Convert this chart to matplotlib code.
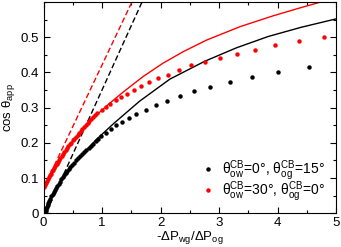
import matplotlib
matplotlib.use("Agg")
import matplotlib.pyplot as plt
from matplotlib.ticker import MultipleLocator

plt.rcParams['font.family'] = ['Liberation Sans', 'DejaVu Sans']
plt.rcParams['mathtext.fontset'] = 'custom'
plt.rcParams['mathtext.rm'] = 'Liberation Sans'
plt.rcParams['mathtext.it'] = 'Liberation Sans:italic'
plt.rcParams['mathtext.bf'] = 'Liberation Sans:bold'

# Black series: theta_ow=0, theta_og=15
black_dots_x = [0.03, 0.037, 0.045, 0.057, 0.07, 0.085, 0.10, 0.117, 0.135, 0.155,
                0.175, 0.195, 0.215, 0.237, 0.26, 0.283, 0.305, 0.33, 0.355, 0.38,
                0.405, 0.432, 0.46, 0.49, 0.52, 0.552, 0.585, 0.62, 0.655, 0.69,
                0.73, 0.77, 0.81, 0.85, 0.895, 0.94,
                0.988, 1.073, 1.159, 1.245, 1.347, 1.461, 1.587, 1.747, 1.918,
                2.11, 2.33, 2.57, 2.85, 3.18, 3.57, 4.01, 4.54]
black_dots_y = [0.000, 0.006, 0.012, 0.018, 0.024, 0.030, 0.036, 0.042, 0.048, 0.054,
                0.060, 0.066, 0.072, 0.078, 0.084, 0.090, 0.096, 0.102, 0.108, 0.114,
                0.120, 0.126, 0.132, 0.138, 0.144, 0.150, 0.156, 0.162, 0.168, 0.174,
                0.180, 0.186, 0.192, 0.198, 0.205, 0.212,
                0.219, 0.229, 0.238, 0.250, 0.259, 0.271, 0.282, 0.294, 0.308,
                0.320, 0.333, 0.347, 0.360, 0.374, 0.387, 0.402, 0.415]
black_line_x = [0, 0.05, 0.1, 0.2, 0.3, 0.4, 0.6, 0.9, 1.2, 1.64, 2.16, 2.76, 3.3, 3.84, 4.4, 5.0]
black_line_y = [0, 0.020, 0.037, 0.064, 0.090, 0.113, 0.155, 0.209, 0.255, 0.318, 0.381,
                0.432, 0.470, 0.502, 0.528, 0.552]
black_dash_x = [0.05, 1.75]
black_dash_y = [0.003, 0.624]

# Red series: theta_ow=30, theta_og=0
red_dots_x = [0.01, 0.025, 0.04, 0.057, 0.075, 0.092, 0.11, 0.127, 0.145, 0.165,
              0.185, 0.205, 0.225, 0.245, 0.265, 0.288, 0.31, 0.333, 0.355, 0.378,
              0.40, 0.425, 0.45, 0.475, 0.50, 0.528, 0.555, 0.583, 0.61, 0.638,
              0.665, 0.695, 0.725, 0.755, 0.785, 0.817, 0.85, 0.88,
              0.913, 0.993, 1.062, 1.142, 1.233, 1.318, 1.427, 1.541, 1.661, 1.80,
              1.957, 2.13, 2.31, 2.52, 2.76, 3.01, 3.30, 3.61, 3.96, 4.36, 4.80]
red_dots_y = [0.075, 0.080, 0.086, 0.091, 0.097, 0.102, 0.108, 0.113, 0.119, 0.124,
              0.130, 0.135, 0.141, 0.146, 0.152, 0.157, 0.163, 0.168, 0.174, 0.179,
              0.185, 0.190, 0.196, 0.201, 0.207, 0.212, 0.218, 0.223, 0.229, 0.234,
              0.240, 0.245, 0.251, 0.256, 0.262, 0.268, 0.274, 0.280,
              0.286, 0.294, 0.303, 0.311, 0.322, 0.330, 0.340, 0.350, 0.362, 0.372,
              0.384, 0.394, 0.406, 0.420, 0.429, 0.442, 0.453, 0.465, 0.477, 0.490, 0.501]
red_line_x = [0, 0.1, 0.2, 0.35, 0.5, 0.7, 0.9, 1.1, 1.36, 1.7, 2.04, 2.4, 2.79, 3.36,
              3.93, 4.4, 4.72, 5.0]
red_line_y = [0.072, 0.104, 0.133, 0.172, 0.205, 0.243, 0.278, 0.308, 0.344, 0.388,
              0.426, 0.460, 0.492, 0.530, 0.561, 0.584, 0.599, 0.612]
red_dash_x = [0.0, 1.60]
red_dash_y = [0.071, 0.631]

labels = ["$\\mathrm{θ}^{\\mathrm{CB}}_{\\mathrm{ow}}$=0°, $\\mathrm{θ}^{\\mathrm{CB}}_{\\mathrm{og}}$=15°",
          "$\\mathrm{θ}^{\\mathrm{CB}}_{\\mathrm{ow}}$=30°, $\\mathrm{θ}^{\\mathrm{CB}}_{\\mathrm{og}}$=0°"]

fig = plt.figure(figsize=(3.41, 2.47), dpi=100)
ax = fig.add_axes([43.5/341, 1 - 213.3/247, (336 - 43.5)/341, (213.3 - 2)/247])

ax.plot(black_line_x, black_line_y, color='black', lw=1.0)
ax.plot(red_line_x, red_line_y, color='#ff0000', lw=1.0)
ax.plot(black_dash_x, black_dash_y, color='black', lw=1.0, ls=(0, (4, 2)))
ax.plot(red_dash_x, red_dash_y, color='#ff0000', lw=1.0, ls=(0, (4, 2)))
h1, = ax.plot(black_dots_x, black_dots_y, 'o', color='black', ms=3.2, mew=0, label=labels[0])
h2, = ax.plot(red_dots_x, red_dots_y, 'o', color='#ff0000', ms=3.2, mew=0, label=labels[1])

ax.set_xlim(0, 5)
ax.set_ylim(0, 0.6)
ax.set_xticks([0, 1, 2, 3, 4, 5])
ax.set_yticks([0, 0.1, 0.2, 0.3, 0.4, 0.5])
ax.set_yticklabels(['0', '0.1', '0.2', '0.3', '0.4', '0.5'])
ax.xaxis.set_minor_locator(MultipleLocator(0.5))
ax.yaxis.set_minor_locator(MultipleLocator(0.05))
ax.tick_params(which='both', direction='in', top=True, right=True, labelsize=9.5, width=0.8)
ax.tick_params(which='major', length=4)
ax.tick_params(axis='x', which='major', pad=2.5)
ax.tick_params(axis='y', which='major', pad=3)
ax.tick_params(which='minor', length=2.5)
for s in ax.spines.values():
    s.set_linewidth(0.8)

ax.set_xlabel("-ΔP$_{\\mathrm{wg}}$/ΔP$_{\\mathrm{og}}$", fontsize=9.5, labelpad=0.5)
ax.set_ylabel("cos θ$_{\\mathrm{app}}$", fontsize=9.5, labelpad=3)

ax.legend(handles=[h1, h2], loc='lower right', bbox_to_anchor=(0.99, 0.003), frameon=False,
          fontsize=10, handlelength=0.6, handletextpad=0.7, labelspacing=-0.2,
          borderaxespad=0.2, markerscale=1.0)

fig.savefig('out.png', dpi=100)
